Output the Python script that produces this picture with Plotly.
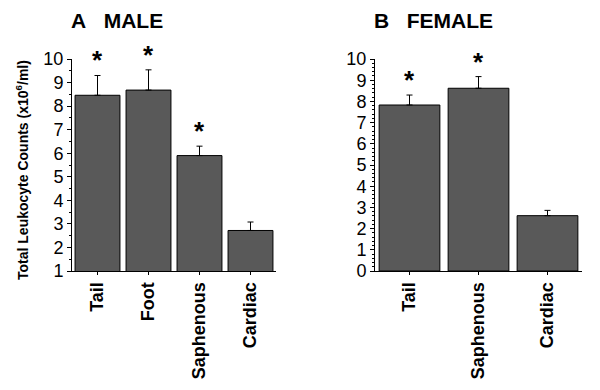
import plotly.graph_objects as go

male_sites = ["Tail", "Foot", "Saphenous", "Cardiac"]
male_values = [8.46, 8.68, 5.90, 2.72]
male_errors = [0.84, 0.86, 0.40, 0.36]
male_signif = [True, True, True, False]

female_sites = ["Tail", "Saphenous", "Cardiac"]
female_values = [7.83, 8.62, 2.61]
female_errors = [0.47, 0.55, 0.25]
female_signif = [True, True, False]

left_ticks = list(range(1, 11))
right_ticks = list(range(0, 11))

BAR = "#595959"
FONT = "Arial, Liberation Sans, sans-serif"
W, H = 600, 390
OFF = 8  # page body margin offset


def px_x(p):
    return (p - OFF) / W


def px_y(p):
    return 1 - (p - OFF) / H


fig = go.Figure()


def add_bars(sites, vals, errs, xa, ya):
    fig.add_trace(go.Bar(
        x=sites, y=vals, xaxis=xa, yaxis=ya,
        marker=dict(color=BAR, line=dict(color="black", width=1)),
        error_y=dict(type="data", array=errs, arrayminus=[0]*len(errs),
                     symmetric=False, color="black", thickness=1, width=3),
        showlegend=False))


add_bars(male_sites, male_values, male_errors, "x", "y")
add_bars(female_sites, female_values, female_errors, "x2", "y2")

xdom1 = [px_x(72), px_x(276)]
xdom2 = [px_x(375), px_x(582)]
ydom = [px_y(271), px_y(59)]

xcommon = dict(showline=True, linecolor="black", linewidth=1, ticks="outside",
               ticklen=3, tickcolor="black", tickangle=-90, automargin=False,
               tickfont=dict(family=FONT, size=18, color="black", weight="bold"),
               showgrid=False, zeroline=False, fixedrange=True)
ycommon = dict(showline=True, linecolor="black", linewidth=1, ticks="outside",
               ticklen=4, tickcolor="black", automargin=False,
               tickfont=dict(family=FONT, size=18, color="black"),
               showgrid=False, zeroline=False, fixedrange=True)

fig.update_layout(
    xaxis=dict(domain=xdom1, range=[-0.5, 3.5], anchor="y", **xcommon),
    xaxis2=dict(domain=xdom2, range=[-0.5, 2.5], anchor="y2", **xcommon),
    yaxis=dict(domain=ydom, range=[1, 10], tickvals=left_ticks, anchor="x",
               minor=dict(dtick=0.5, ticks="outside", ticklen=2, tickcolor="black"),
               **ycommon),
    yaxis2=dict(domain=ydom, range=[0, 10], tickvals=right_ticks, anchor="x2",
                minor=dict(dtick=0.2, ticks="outside", ticklen=2, tickcolor="black"),
                **ycommon),
    bargap=0.12,
)

ann = []
for sites, vals, errs, sig, xr, yr in [
        (male_sites, male_values, male_errors, male_signif, "x", "y"),
        (female_sites, female_values, female_errors, female_signif, "x2", "y2")]:
    for s, v, e, g in zip(sites, vals, errs, sig):
        if g:
            ann.append(dict(x=s, y=v + e, xref=xr, yref=yr, text="<b>*</b>",
                            showarrow=False, yanchor="bottom", yshift=-2,
                            font=dict(family=FONT, size=26, color="black")))

ann.append(dict(x=px_x(70), y=1, xref="paper", yref="paper", xanchor="left",
                yanchor="top", borderpad=0, text="<b>A\u00a0\u00a0\u00a0MALE</b>",
                showarrow=False, font=dict(family=FONT, size=21, color="black")))
ann.append(dict(x=px_x(373), y=1, xref="paper", yref="paper", xanchor="left",
                yanchor="top", borderpad=0, text="<b>B\u00a0\u00a0\u00a0FEMALE</b>",
                showarrow=False, font=dict(family=FONT, size=21, color="black")))
ann.append(dict(x=px_x(22), y=px_y(170), xref="paper", yref="paper", xanchor="center",
                yanchor="middle", textangle=-90, showarrow=False,
                text="<b>Total Leukocyte Counts (x10<sup>6</sup>/ml)</b>",
                font=dict(family=FONT, size=14, color="black")))

fig.update_layout(annotations=ann, width=W, height=H, autosize=False,
                  template="simple_white",
                  margin=dict(l=0, r=0, t=0, b=0, pad=0, autoexpand=False),
                  paper_bgcolor="white", plot_bgcolor="white")

fig.write_html("out.html")
